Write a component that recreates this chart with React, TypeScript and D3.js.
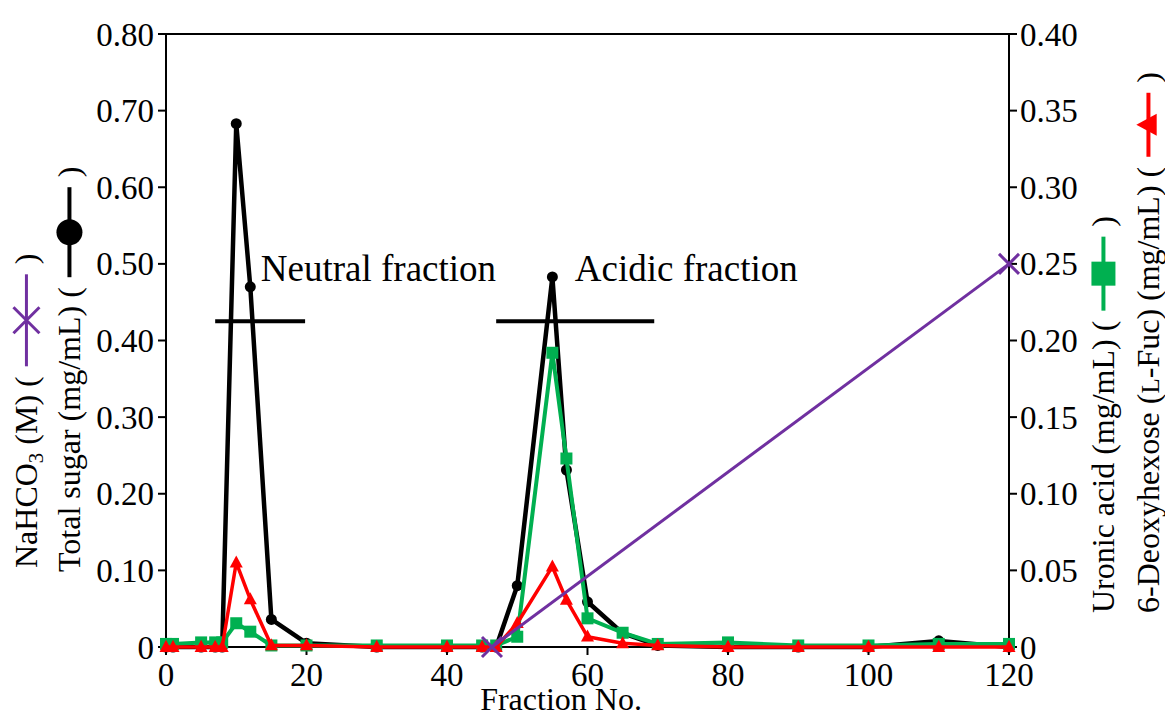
import React from "react";
import * as d3 from "d3";

// ---------- data ----------
const fractions = [0, 1, 5, 7, 8, 10, 12, 15, 20, 30, 40, 45, 47, 50, 55, 57, 60, 65, 70, 80, 90, 100, 110, 120];
const totalSugar = [0, 0, 0, 0, 0, 0.683, 0.47, 0.036, 0.005, 0, 0, 0, 0, 0.08, 0.483, 0.231, 0.059, 0.018, 0.002, 0, 0, 0, 0.008, 0];
const uronicAcid = [0.002, 0.002, 0.003, 0.003, 0.003, 0.0155, 0.01, 0.001, 0.001, 0.001, 0.001, 0.001, 0.001, 0.0067, 0.192, 0.123, 0.0187, 0.0093, 0.002, 0.003, 0.001, 0.001, 0.002, 0.002];
const deoxyhexose = [0, 0, 0, 0, 0, 0.055, 0.031, 0.001, 0.001, 0, 0, 0, 0, 0.0155, 0.0524, 0.0307, 0.0067, 0.0024, 0.001, 0, 0, 0, 0, 0];
const nahco3Fractions = [46.4, 120];
const nahco3 = [0, 0.5];

const leftTicks = [0, 0.1, 0.2, 0.3, 0.4, 0.5, 0.6, 0.7, 0.8];
const rightTicks = [0, 0.05, 0.1, 0.15, 0.2, 0.25, 0.3, 0.35, 0.4];
const xTicks = [0, 20, 40, 60, 80, 100, 120];

const neutralBar = [7, 19.8];
const acidicBar = [47, 69.5];
const barLevel = 0.425;
const labels = [
  { text: "Neutral fraction", x: 13.5, y: 0.478 },
  { text: "Acidic fraction", x: 58.2, y: 0.478 },
];

// ---------- layout ----------
const W = 1165, H = 717;
const L = 166, R = 1009, T = 34, B = 647;
const FONT = "'Liberation Serif', 'Times New Roman', serif";
const FS = 33;
const TFS = 32;
const AFS = 37;

const x = d3.scaleLinear().domain([0, 120]).range([L, R]);
const yL = d3.scaleLinear().domain([0, 0.8]).range([B, T]);
const yR = d3.scaleLinear().domain([0, 0.4]).range([B, T]);

const BLACK = "#000000";
const GREEN = "#00B050";
const RED = "#FF0000";
const PURPLE = "#7030A0";

let ctx: CanvasRenderingContext2D | null = null;
function measure(t: string, size: number) {
  if (!ctx) ctx = document.createElement("canvas").getContext("2d");
  if (!ctx) return t.length * size * 0.5;
  ctx.font = `${size}px 'Liberation Serif'`;
  return ctx.measureText(t).width;
}

function fmt(v: number) {
  return v === 0 ? "0" : v.toFixed(2);
}

type Marker = "circle" | "square" | "triangle" | "x";

function MarkerShape({ kind, cx, cy, s, color }: { kind: Marker; cx: number; cy: number; s: number; color: string }) {
  if (kind === "circle") return <circle cx={cx} cy={cy} r={s} fill={color} />;
  if (kind === "square") return <rect x={cx - s} y={cy - s} width={2 * s} height={2 * s} fill={color} />;
  if (kind === "triangle")
    return <path d={`M${cx},${cy - s * 1.1} L${cx + s},${cy + s * 0.75} L${cx - s},${cy + s * 0.75} Z`} fill={color} />;
  return (
    <path d={`M${cx - s},${cy - s} L${cx + s},${cy + s} M${cx - s},${cy + s} L${cx + s},${cy - s}`} stroke={color} strokeWidth={3} />
  );
}

// Title rotated -90; parts of text then a legend symbol then ")"
function RotTitle({
  bx, by, parts, marker, color, lineLen, ms, lw,
}: {
  bx: number; by: number; parts: { t: string; sub?: boolean; small?: boolean }[];
  marker: Marker; color: string; lineLen: number; ms: number; lw: number;
}) {
  let w = 0;
  const els: React.ReactNode[] = [];
  parts.forEach((p, i) => {
    const size = p.sub ? TFS * 0.65 : p.small ? TFS * 0.78 : TFS;
    const prevSub = i > 0 && parts[i - 1].sub;
    w += measure(p.t, size);
    els.push(
      <tspan key={i} fontSize={size} dy={p.sub ? 6 : prevSub ? -6 : 0}>
        {p.t}
      </tspan>
    );
  });
  const gap = 10;
  const s0 = w + gap;
  const mid = s0 + lineLen / 2;
  const cy = -TFS * 0.33;
  return (
    <g transform={`translate(${bx},${by}) rotate(-90)`}>
      <text x={0} y={0} fontFamily={FONT} fontSize={TFS} fill="#000">
        {els}
      </text>
      <line x1={s0} x2={s0 + lineLen} y1={cy} y2={cy} stroke={color} strokeWidth={lw} />
      <MarkerShape kind={marker} cx={mid} cy={cy} s={ms} color={color} />
      <text x={s0 + lineLen + gap} y={0} fontFamily={FONT} fontSize={TFS} fill="#000">
        )
      </text>
    </g>
  );
}

function Series({
  xs, ys, scale, color, lw, marker, ms,
}: {
  xs: number[]; ys: number[]; scale: d3.ScaleLinear<number, number>; color: string; lw: number; marker: Marker; ms: number;
}) {
  const pts: [number, number][] = xs.map((f, i) => [x(f), scale(ys[i])]);
  const line = d3.line()(pts) || "";
  return (
    <g>
      <path d={line} fill="none" stroke={color} strokeWidth={lw} strokeLinejoin="round" />
      {pts.map((p, i) => (
        <MarkerShape key={i} kind={marker} cx={p[0]} cy={p[1]} s={ms} color={color} />
      ))}
    </g>
  );
}

export default function App() {
  return (
    <svg
      width={W}
      height={H}
      viewBox={`0 0 ${W} ${H}`}
      style={{ position: "absolute", left: 0, top: 0, background: "#fff" }}
      fontFamily={FONT}
    >
      <rect x={0} y={0} width={W} height={H} fill="#fff" />

      {/* axes frame */}
      <line x1={L} x2={L} y1={T} y2={B} stroke="#000" strokeWidth={2} />
      <line x1={R} x2={R} y1={T} y2={B} stroke="#000" strokeWidth={2} />
      <line x1={L} x2={R} y1={B} y2={B} stroke="#000" strokeWidth={2} />
      <line x1={L} x2={R} y1={T} y2={T} stroke="#000" strokeWidth={2} />

      {/* left ticks */}
      {leftTicks.map((v) => (
        <g key={"l" + v}>
          <line x1={L - 8} x2={L} y1={yL(v)} y2={yL(v)} stroke="#000" strokeWidth={2} />
          <text x={L - 12} y={yL(v)} dy="0.35em" textAnchor="end" fontSize={FS}>
            {fmt(v)}
          </text>
        </g>
      ))}
      {/* right ticks */}
      {rightTicks.map((v) => (
        <g key={"r" + v}>
          <line x1={R} x2={R + 8} y1={yR(v)} y2={yR(v)} stroke="#000" strokeWidth={2} />
          <text x={R + 11} y={yR(v)} dy="0.35em" textAnchor="start" fontSize={FS}>
            {fmt(v)}
          </text>
        </g>
      ))}
      {/* x ticks */}
      {xTicks.map((v) => (
        <g key={"x" + v}>
          <line x1={x(v)} x2={x(v)} y1={B} y2={B + 8} stroke="#000" strokeWidth={2} />
          <text x={x(v)} y={B + 39} textAnchor="middle" fontSize={FS}>
            {v}
          </text>
        </g>
      ))}
      <text x={561} y={H - 7} textAnchor="middle" fontSize={32}>
        Fraction No.
      </text>

      {/* fraction bars and labels */}
      <line x1={x(neutralBar[0])} x2={x(neutralBar[1])} y1={yL(barLevel)} y2={yL(barLevel)} stroke="#000" strokeWidth={4} />
      <line x1={x(acidicBar[0])} x2={x(acidicBar[1])} y1={yL(barLevel)} y2={yL(barLevel)} stroke="#000" strokeWidth={4} />
      {labels.map((lb) => (
        <text key={lb.text} x={x(lb.x)} y={yL(lb.y)} fontSize={AFS}>
          {lb.text}
        </text>
      ))}

      {/* series */}
      <Series xs={fractions} ys={totalSugar} scale={yL} color={BLACK} lw={4.5} marker="circle" ms={5.5} />
      <Series xs={fractions} ys={uronicAcid} scale={yR} color={GREEN} lw={4} marker="square" ms={6} />
      <Series xs={fractions} ys={deoxyhexose} scale={yR} color={RED} lw={3.5} marker="triangle" ms={6.5} />
      <Series xs={nahco3Fractions} ys={nahco3} scale={yL} color={PURPLE} lw={3} marker="x" ms={10} />

      {/* axis titles */}
      <RotTitle
        bx={37}
        by={568}
        parts={[{ t: "NaHCO" }, { t: "3", sub: true }, { t: " (M) (" }]}
        marker="x"
        color={PURPLE}
        lineLen={92}
        ms={13}
        lw={3}
      />
      <RotTitle
        bx={80}
        by={572}
        parts={[{ t: "Total sugar (mg/mL) (" }]}
        marker="circle"
        color={BLACK}
        lineLen={90}
        ms={13}
        lw={4}
      />
      <RotTitle
        bx={1114}
        by={613}
        parts={[{ t: "Uronic acid (mg/mL) (" }]}
        marker="square"
        color={GREEN}
        lineLen={74}
        ms={12}
        lw={4}
      />
      <RotTitle
        bx={1159}
        by={613}
        parts={[{ t: "6-Deoxyhexose (" }, { t: "L", small: true }, { t: "-Fuc) (mg/mL) (" }]}
        marker="triangle"
        color={RED}
        lineLen={64}
        ms={11}
        lw={4}
      />
    </svg>
  );
}
